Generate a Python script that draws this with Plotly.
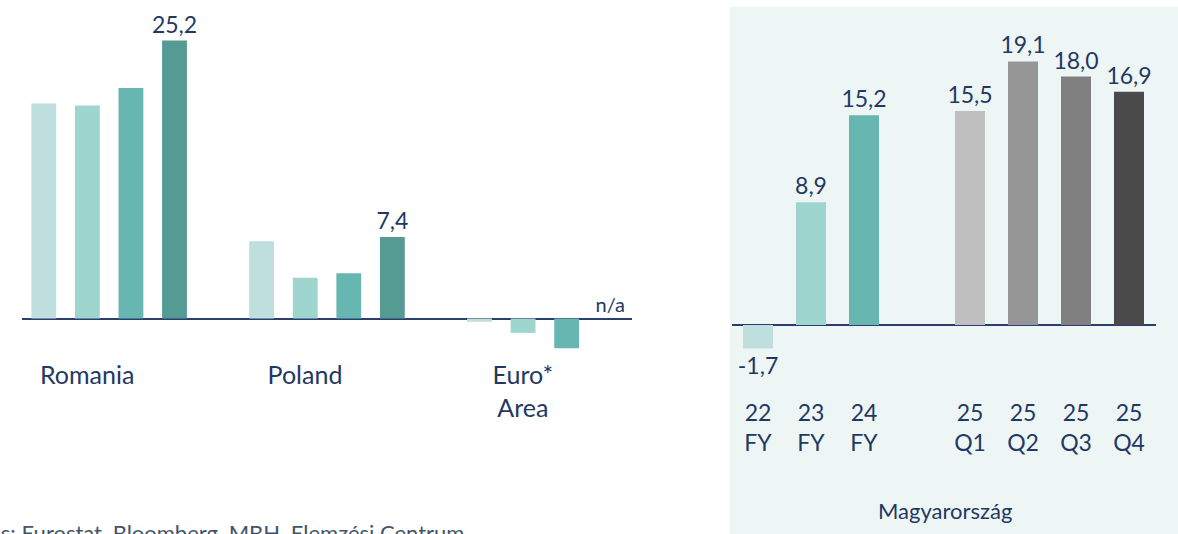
import plotly.graph_objects as go

# ---------------- data ----------------
countries = ["Romania", "Poland", "Euro Area"]
country_ticktext = ["Romania", "Poland", "Euro*<br>Area"]
series_names = ["2022", "2023", "2024", "2025"]
val_2022 = [19.5, 7.0, -0.3]
val_2023 = [19.3, 3.7, -1.3]
val_2024 = [20.9, 4.1, -2.7]
val_2025 = [25.2, 7.4, None]   # Euro Area: n/a

hu_periods = ["22 FY", "23 FY", "24 FY", "gap", "25 Q1", "25 Q2", "25 Q3", "25 Q4"]
hu_ticktext = ["22<br>FY", "23<br>FY", "24<br>FY", "", "25<br>Q1", "25<br>Q2", "25<br>Q3", "25<br>Q4"]
hu_values = [-1.7, 8.9, 15.2, None, 15.5, 19.1, 18.0, 16.9]

# ---------------- styles ----------------
series_colors = ["#BEDFDE", "#9FD5CF", "#67B6B2", "#559A93"]
hu_colors = ["#BEDFDE", "#9FD5CF", "#67B6B2", "#FFFFFF", "#BFBFBF", "#969696", "#808080", "#4A4A4A"]
NAVY = "#1F3864"
FONT = "Lato"
W, H = 1178, 534


def fmt(v):
    return "n/a" if v is None else f"{v:.1f}".replace(".", ",")


def px(x):
    return x / W


def py(y):
    return 1 - y / H


fig = go.Figure()

all_series = [val_2022, val_2023, val_2024, val_2025]
for i, (name, vals) in enumerate(zip(series_names, all_series)):
    labelled = (i == len(all_series) - 1)
    fig.add_trace(go.Bar(
        x=countries,
        y=[0 if v is None else v for v in vals],
        name=name,
        marker=dict(color=series_colors[i], line=dict(width=0)),
        text=[fmt(v) for v in vals] if labelled else None,
        textposition="outside",
        textangle=0,
        constraintext="none",
        cliponaxis=False,
        textfont=dict(family=FONT,
                      size=[23 if v is not None else 20 for v in vals] if labelled else 23,
                      color=NAVY),
        xaxis="x", yaxis="y",
        showlegend=False,
        hoverinfo="skip",
    ))

fig.add_trace(go.Bar(
    x=hu_periods,
    y=hu_values,
    width=0.566,
    marker=dict(color=hu_colors, line=dict(width=0)),
    text=["" if v is None else fmt(v) for v in hu_values],
    textposition="outside",
    textangle=0,
    constraintext="none",
    cliponaxis=False,
    textfont=dict(family=FONT, size=23, color=NAVY),
    xaxis="x2", yaxis="y2",
    showlegend=False,
    hoverinfo="skip",
))

axis_common = dict(showgrid=False, ticks="", showline=False, fixedrange=True)

fig.update_layout(
    width=W, height=H, autosize=False,
    margin=dict(l=0, r=0, t=0, b=0),
    paper_bgcolor="white", plot_bgcolor="rgba(0,0,0,0)",
    font=dict(family=FONT, color=NAVY),
    barmode="group",
    bargap=0.2,
    bargroupgap=0.43,
    xaxis=dict(domain=[px(22), px(632)], range=[-0.4, 2.4], anchor="y",
               tickvals=countries, ticktext=country_ticktext,
               tickfont=dict(family=FONT, size=25, color=NAVY),
               ticklabelshift=-22, zeroline=False, **axis_common),
    yaxis=dict(domain=[py(358), py(9.7)], range=[-(358 - 318.5) / 11.03, (318.5 - 9.7) / 11.03],
               anchor="x", showticklabels=False, zeroline=True, zerolinecolor="#2B3F6E",
               zerolinewidth=2, **axis_common),
    xaxis2=dict(domain=[px(731.5), px(1155.5)], range=[-0.5, 7.5], anchor="y2",
                type="category", categoryorder="array", categoryarray=hu_periods,
                tickvals=hu_periods, ticktext=hu_ticktext,
                tickfont=dict(family=FONT, size=23, color=NAVY),
                zeroline=False, **axis_common),
    yaxis2=dict(domain=[py(397), py(8)], range=[-(397 - 325) / 13.8, (325 - 8) / 13.8],
                anchor="x2", showticklabels=False, zeroline=True, zerolinecolor="#2B3F6E",
                zerolinewidth=2, **axis_common),
    shapes=[dict(type="rect", xref="paper", yref="paper",
                 x0=px(730), x1=1.0, y0=0, y1=py(7),
                 fillcolor="#EEF6F5", line=dict(width=0), layer="below")],
    annotations=[
        dict(text="Magyarország", xref="paper", yref="paper",
             x=px(944.5), y=py(510), xanchor="center", yanchor="middle",
             showarrow=False, font=dict(family=FONT, size=22, color=NAVY)),
        dict(text="Forrás: Eurostat, Bloomberg, MBH, Elemzési Centrum", xref="paper", yref="paper",
             x=px(466), y=py(517), xanchor="right", yanchor="top",
             showarrow=False, font=dict(family=FONT, size=22, color="#44546A")),
    ],
)

fig.write_html("out.html", config={"displayModeBar": False, "staticPlot": True},
               post_script="document.body.style.margin='0';")
